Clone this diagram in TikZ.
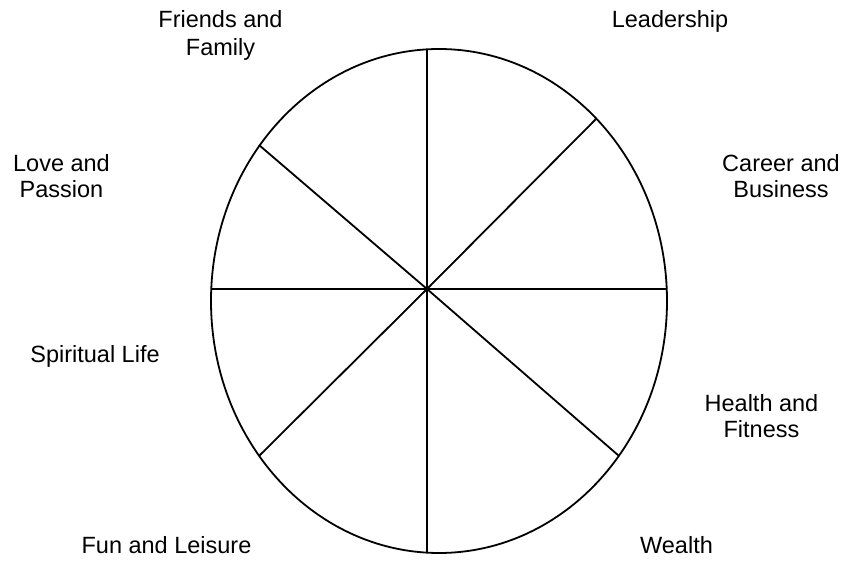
\documentclass[tikz,border=0pt]{standalone}
\usepackage{fontspec}
\setmainfont{Liberation Sans}
\usetikzlibrary{shapes.geometric}
\begin{document}
\begin{tikzpicture}[x=1pt,y=-1pt,
  spoke/.style={line width=1.8pt},
  rim/.style={ellipse,draw,line width=1.8pt,minimum width=456pt,minimum height=504pt,inner sep=0pt},
  lbl/.style={font=\fontsize{23.5}{26}\selectfont,align=center,inner sep=0pt,anchor=base}]
\useasboundingbox (0,0) rectangle (847,561);
\node[rim] (wheel) at (439,301) {};
\coordinate (c) at (427,289);
\coordinate (n) at (427,49.4);
\coordinate (s) at (427,552.6);
\coordinate (w) at (211.3,289);
\coordinate (e) at (666.7,289);
\coordinate (nw) at (259,145);
\coordinate (ne) at (595.7,119.3);
\coordinate (sw) at (259.3,455.7);
\coordinate (se) at (618.7,455.7);
\foreach \p in {n,s,w,e,nw,ne,sw,se} \draw[spoke] (c) -- (\p);
\node[lbl,font=\fontsize{23.5}{28}\selectfont] (friends) at (220.5,56) {Friends and\\Family};
\node[lbl] (leader) at (670,28) {Leadership};
\node[lbl] (love) at (61.5,198) {Love and\\Passion};
\node[lbl] (career) at (781,198) {Career and\\Business};
\node[lbl] (spirit) at (95,363) {Spiritual Life};
\node[lbl] (health) at (761.5,438) {Health and\\Fitness};
\node[lbl] (fun) at (166.5,554) {Fun and Leisure};
\node[lbl] (wealth) at (676.5,554) {Wealth};
\end{tikzpicture}
\end{document}
